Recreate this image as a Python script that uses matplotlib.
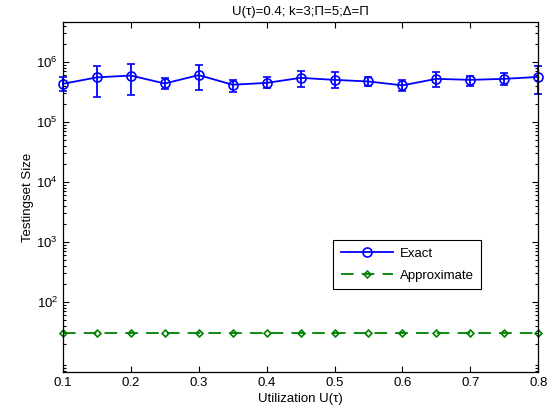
import numpy as np
import matplotlib
matplotlib.use("Agg")
import matplotlib.pyplot as plt
from matplotlib.lines import Line2D
from matplotlib.ticker import LogLocator, NullFormatter

plt.rcParams['font.family'] = ['Liberation Sans', 'DejaVu Sans']
plt.rcParams['mathtext.fontset'] = 'custom'
plt.rcParams['mathtext.rm'] = 'Liberation Sans'

# utilization values on the x axis
utilization = [0.1, 0.15, 0.2, 0.25, 0.3, 0.35, 0.4, 0.45, 0.5, 0.55, 0.6, 0.65, 0.7, 0.75, 0.8]

# exact testing-set size: mean with upper / lower bounds of the error bars
exact_mean = [4.3e5, 5.5e5, 5.9e5, 4.35e5, 6.0e5, 4.15e5, 4.45e5, 5.4e5,
              5.0e5, 4.7e5, 4.05e5, 5.2e5, 5.0e5, 5.2e5, 5.6e5]
exact_upper = [5.6e5, 8.35e5, 9.25e5, 5.35e5, 8.8e5, 5.0e5, 5.6e5, 6.9e5,
               6.65e5, 5.55e5, 4.9e5, 6.65e5, 5.9e5, 6.5e5, 8.6e5]
exact_lower = [3.3e5, 2.6e5, 2.85e5, 3.55e5, 3.4e5, 3.2e5, 3.6e5, 3.75e5,
               3.6e5, 3.95e5, 3.3e5, 3.75e5, 3.9e5, 4.15e5, 2.9e5]

# approximate testing-set size
approx = [30] * 15

x = np.array(utilization)
m = np.array(exact_mean)
yerr = [m - np.array(exact_lower), np.array(exact_upper) - m]

blue = (0, 0, 1)
green = (0, 0.5, 0)
dash = (0, (7, 4.5))

fig = plt.figure(figsize=(5.52, 4.13), dpi=100)
ax = fig.add_axes([0.114, 0.0993, 0.861, 0.8474])

eb = ax.errorbar(x, m, yerr=yerr, color=blue, lw=1.3, marker='o',
                 markersize=6.5, markerfacecolor='none', markeredgewidth=1.2,
                 capsize=3, capthick=1.3, elinewidth=1.3)
for art in eb.lines[0:1] + tuple(eb.lines[1]) + tuple(eb.lines[2]):
    art.set_clip_on(False)
ax.plot(x, approx, color=green, lw=1.3, ls=dash, marker='D',
        markersize=3.5, markerfacecolor='none', markeredgewidth=1.2,
        clip_on=False)

ax.set_yscale('log')
ax.set_xlim(0.1, 0.8)
ax.set_ylim(6.8, 4.6e6)
ax.set_xticks(np.arange(0.1, 0.81, 0.1))
ax.set_xticklabels(['0.1', '0.2', '0.3', '0.4', '0.5', '0.6', '0.7', '0.8'])
ax.yaxis.set_minor_locator(LogLocator(base=10, subs=np.arange(2, 10), numticks=10))
ax.yaxis.set_minor_formatter(NullFormatter())
ax.set_yticks([1e2, 1e3, 1e4, 1e5, 1e6])
ax.set_yticklabels([r'$10^{2}$', r'$10^{3}$', r'$10^{4}$', r'$10^{5}$', r'$10^{6}$'])

ax.tick_params(which='both', direction='in', top=True, right=True, labelsize=9.5, width=0.8)
ax.tick_params(which='major', length=4)
ax.tick_params(which='minor', length=2)
for s in ax.spines.values():
    s.set_linewidth(0.9)

ax.set_xlabel('Utilization U(τ)', fontsize=9.5, labelpad=3)
ax.set_ylabel('Testingset Size', fontsize=9.5, labelpad=2)
ax.set_title('U(τ)=0.4; k=3;Π=5;Δ=Π', fontsize=9.5, pad=5)

handles = [
    Line2D([], [], color=blue, lw=1.3, marker='o', markersize=6.5,
           markerfacecolor='none', markeredgewidth=1.2),
    Line2D([], [], color=green, lw=1.3, ls=dash, marker='D', markersize=3.5,
           markerfacecolor='none', markeredgewidth=1.2),
]
leg = ax.legend(handles, ['Exact', 'Approximate'], loc='lower right',
                bbox_to_anchor=(0.88, 0.237), borderaxespad=0, fancybox=False,
                edgecolor='black', framealpha=1, fontsize=9.5, handlelength=4,
                borderpad=0.55, labelspacing=0.75, handletextpad=0.5)
leg.get_frame().set_linewidth(0.8)

fig.savefig('out.png', dpi=100)
